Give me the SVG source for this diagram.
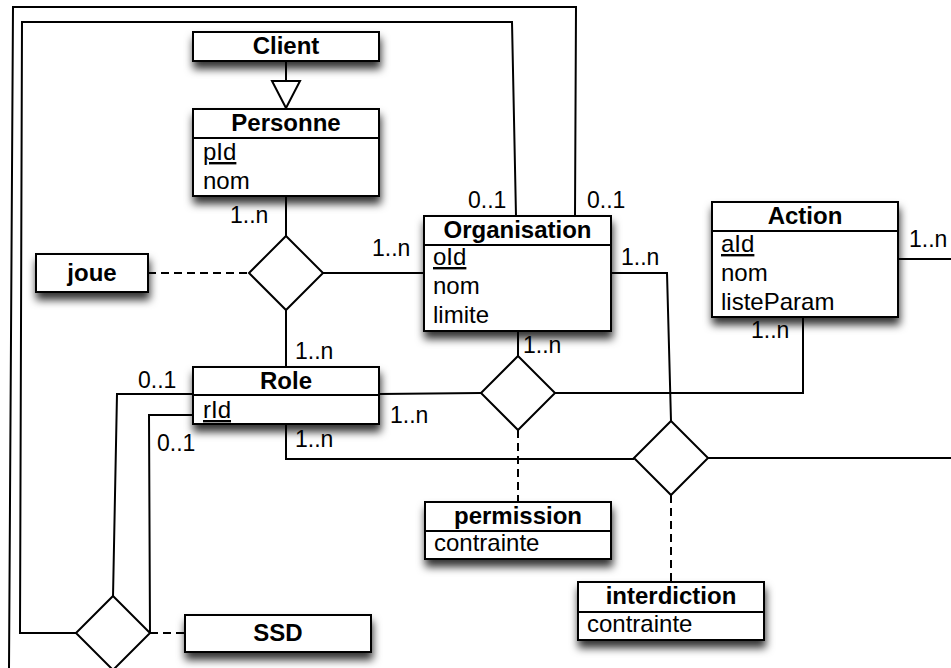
<svg xmlns="http://www.w3.org/2000/svg" width="951" height="668" viewBox="0 0 951 668">
<defs>
<filter id="sh" x="-20%" y="-40%" width="140%" height="200%">
<feDropShadow dx="1" dy="7" stdDeviation="4.5" flood-color="#000" flood-opacity="0.8"/>
</filter>
<style>
.box{fill:#fff;stroke:#000;stroke-width:2}
.div{stroke:#000;stroke-width:2}
.ln{fill:none;stroke:#000;stroke-width:2}
.dash{fill:none;stroke:#000;stroke-width:2;stroke-dasharray:8 5}
.dia{fill:#fff;stroke:#000;stroke-width:2}
.h{font-family:"Liberation Sans",Arial,sans-serif;font-weight:bold;font-size:24px;text-anchor:middle}
.t{font-family:"Liberation Sans",Arial,sans-serif;font-size:24px}
.m{font-family:"Liberation Sans",Arial,sans-serif;font-size:23px}
.u{text-decoration:underline}
</style>
</defs>
<rect width="951" height="668" fill="#fff"/>
<g id="connectors">
<polyline class="ln" points="575,216 576,7 13,7 9,668"/>
<polyline class="ln" points="516,216 512,22 22,22 20,633 76,633"/>
<line class="ln" x1="286" y1="61" x2="286" y2="81"/>
<polygon class="dia" points="272,81 300,81 286,108"/>
<line class="ln" x1="286" y1="196" x2="286" y2="236"/>
<line class="ln" x1="323" y1="273" x2="424" y2="273"/>
<line class="ln" x1="286" y1="310" x2="286" y2="367"/>
<line class="dash" x1="148" y1="273" x2="249" y2="273"/>
<line class="ln" x1="518" y1="331" x2="518" y2="356"/>
<line class="ln" x1="379" y1="394" x2="481" y2="393"/>
<polyline class="ln" points="555,393 803,393 803,317"/>
<line class="dash" x1="518" y1="430" x2="518" y2="502"/>
<polyline class="ln" points="611,273 667,273 671,421"/>
<polyline class="ln" points="286,424 286,459 634,459"/>
<line class="ln" x1="708" y1="458" x2="951" y2="458"/>
<line class="dash" x1="671" y1="495" x2="671" y2="582"/>
<line class="ln" x1="898" y1="259" x2="951" y2="259"/>
<polyline class="ln" points="193,394 117,394 113,597"/>
<polyline class="ln" points="193,415 149,415 150,633"/>
<line class="dash" x1="150" y1="633" x2="185" y2="633"/>
</g>
<g id="multiplicities">
<text class="m" x="230" y="223">1..n</text>
<text class="m" x="372" y="256">1..n</text>
<text class="m" x="295" y="359">1..n</text>
<text class="m" x="295" y="447">1..n</text>
<text class="m" x="138" y="388">0..1</text>
<text class="m" x="157" y="451">0..1</text>
<text class="m" x="390" y="423">1..n</text>
<text class="m" x="468" y="208">0..1</text>
<text class="m" x="587" y="208">0..1</text>
<text class="m" x="621" y="265">1..n</text>
<text class="m" x="523" y="353">1..n</text>
<text class="m" x="751" y="338">1..n</text>
<text class="m" x="909" y="247">1..n</text>
</g>
<g id="d_joue"><polygon class="dia" points="286,236 323,273 286,310 249,273"/></g>
<g id="d_permission"><polygon class="dia" points="518,356 555,393 518,430 481,393"/></g>
<g id="d_interdiction"><polygon class="dia" points="671,421 708,458 671,495 634,458"/></g>
<g id="d_ssd"><polygon class="dia" points="113,596 150,633 113,670 76,633"/></g>
<g id="client">
<rect class="box" x="193" y="32" width="186" height="29" filter="url(#sh)"/>
<text class="h" x="286" y="54">Client</text>
</g>
<g id="personne">
<rect class="box" x="193" y="109" width="186" height="87" filter="url(#sh)"/>
<line class="div" x1="193" y1="138" x2="379" y2="138"/>
<text class="h" x="286" y="131">Personne</text>
<text class="t u" x="203" y="160">pId</text>
<text class="t" x="203" y="189">nom</text>
</g>
<g id="joue">
<rect class="box" x="36" y="254" width="112" height="38" filter="url(#sh)"/>
<text class="h" x="92" y="281">joue</text>
</g>
<g id="organisation">
<rect class="box" x="424" y="216" width="187" height="115" filter="url(#sh)"/>
<line class="div" x1="424" y1="245" x2="611" y2="245"/>
<text class="h" x="517.5" y="238">Organisation</text>
<text class="t u" x="433" y="265">oId</text>
<text class="t" x="433" y="294">nom</text>
<text class="t" x="433" y="323">limite</text>
</g>
<g id="action">
<rect class="box" x="712" y="202" width="186" height="115" filter="url(#sh)"/>
<line class="div" x1="712" y1="231" x2="898" y2="231"/>
<text class="h" x="805" y="224">Action</text>
<text class="t u" x="721" y="252">aId</text>
<text class="t" x="721" y="281">nom</text>
<text class="t" x="721" y="310">listeParam</text>
</g>
<g id="role">
<rect class="box" x="193" y="367" width="186" height="57" filter="url(#sh)"/>
<line class="div" x1="193" y1="395" x2="379" y2="395"/>
<text class="h" x="286" y="389">Role</text>
<text class="t u" x="203" y="418">rId</text>
</g>
<g id="permission">
<rect class="box" x="425" y="502" width="186" height="57" filter="url(#sh)"/>
<line class="div" x1="425" y1="531" x2="611" y2="531"/>
<text class="h" x="518" y="524">permission</text>
<text class="t" x="434" y="551">contrainte</text>
</g>
<g id="interdiction">
<rect class="box" x="578" y="582" width="186" height="58" filter="url(#sh)"/>
<line class="div" x1="578" y1="612" x2="764" y2="612"/>
<text class="h" x="671" y="604">interdiction</text>
<text class="t" x="587" y="632">contrainte</text>
</g>
<g id="ssd">
<rect class="box" x="185" y="615" width="186" height="37" filter="url(#sh)"/>
<text class="h" x="278" y="641">SSD</text>
</g>
</svg>
